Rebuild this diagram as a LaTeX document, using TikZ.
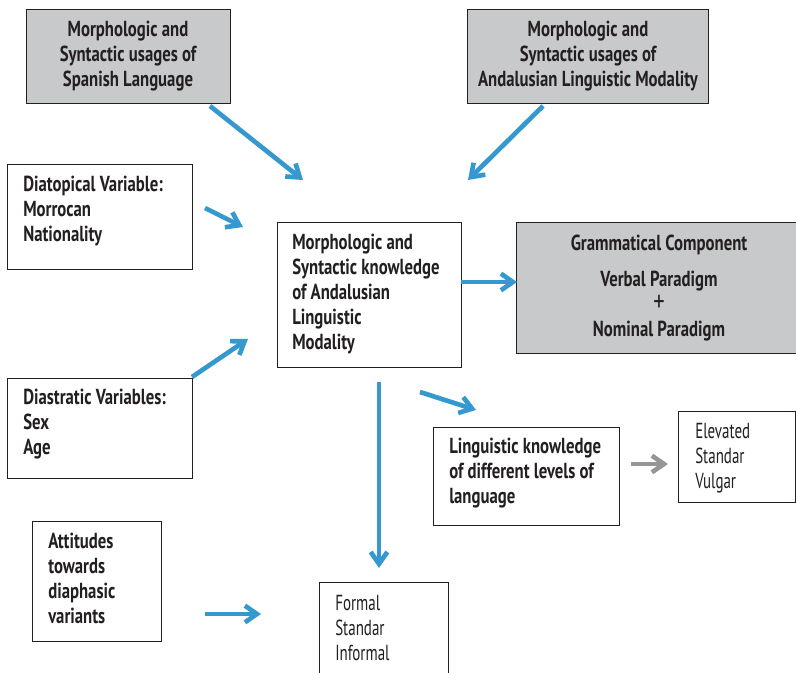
\documentclass[tikz,border=0pt]{standalone}
\usepackage{fontspec}
\setmainfont{PT Sans}[FakeStretch=0.77]
\newfontfamily\regfont{PT Sans}[FakeStretch=0.69]
\usetikzlibrary{arrows.meta}
\definecolor{boxgray}{RGB}{200,201,203}
\definecolor{arrblue}{RGB}{53,152,207}
\definecolor{arrgray}{RGB}{150,150,150}
\definecolor{edgec}{RGB}{35,31,32}
\begin{document}
\begin{tikzpicture}[x=0.75pt,y=-0.75pt,
  box/.style 2 args={draw=edgec, line width=1.1pt, fill=white, inner sep=0pt, anchor=north west,
    minimum width=#1*0.75pt, minimum height=#2*0.75pt},
  graybox/.style 2 args={box={#1}{#2}, fill=boxgray},
  btxt/.style={font=\bfseries\fontsize{16.3}{18.75}\selectfont, text=edgec, inner sep=0pt, align=left, anchor=base west},
  ctxt/.style={btxt, align=center, anchor=base},
  rtxt/.style={font=\regfont\fontsize{16.3}{18.75}\selectfont, text=edgec, inner sep=0pt, align=left, anchor=base west},
  flow/.style={draw=arrblue, line width=3.5pt, -{Straight Barb[length=9pt,width=12.5pt]}},
  flowgray/.style={flow, draw=arrgray},
]
\useasboundingbox (0,0) rectangle (796,673);

% boxes
\node[graybox={204}{94}] (A) at (26,9) {};
\node[graybox={241}{94}] (B) at (467,9) {};
\node[box={185}{105}] (C) at (7,164) {};
\node[box={184}{145}] (D) at (277,222) {};
\node[graybox={300}{131}] (E) at (516,222) {};
\node[box={185}{100}] (F) at (7,378) {};
\node[box={186}{98}] (G) at (433,427) {};
\node[box={117}{91}] (H) at (678,411) {};
\node[box={129}{120}] (I) at (32,521) {};
\node[box={129}{120}] (J) at (319,582) {};

% texts (anchored at the baseline of the last line)
\node[ctxt] (tA) at (128,87) {Morphologic and\\Syntactic usages of\\Spanish Language};
\node[ctxt] (tB) at (588,87) {Morphologic and\\Syntactic usages of\\Andalusian Linguistic Modality};
\node[btxt] (tC) at (23,242) {Diatopical Variable:\\Morrocan\\Nationality};
\node[btxt] (tD) at (292,350) {Morphologic and\\Syntactic knowledge\\of Andalusian\\Linguistic\\Modality};
\node[ctxt] (tE) at (659,337) {Grammatical Component\\[8.5pt]Verbal Paradigm\\{\mdseries\fontsize{22}{18.75}\selectfont +}\\Nominal Paradigm};
\node[btxt] (tF) at (23,455) {Diastratic Variables:\\Sex\\Age};
\node[btxt] (tG) at (449,503) {Linguistic knowledge\\of different levels of\\language};
\node[rtxt] (tH) at (695,488) {Elevated\\Standar\\Vulgar};
\node[btxt] (tI) at (48,623) {Attitudes\\towards\\diaphasic\\variants};
\node[rtxt] (tJ) at (335,660) {Formal\\Standar\\Informal};

% arrow end points
\coordinate (a1) at (210,106); \coordinate (a2) at (303,180);
\coordinate (b1) at (543,106); \coordinate (b2) at (468,180);
\coordinate (c1) at (205,208); \coordinate (c2) at (243,227);
\coordinate (f1) at (192,377); \coordinate (f2) at (248,339);
\coordinate (d1) at (461,282); \coordinate (d2) at (517,282);
\coordinate (g1) at (420,392); \coordinate (g2) at (476,410);
\coordinate (v1) at (379,382); \coordinate (v2) at (379,568);
\coordinate (h1) at (631,464); \coordinate (h2) at (668,464);
\coordinate (i1) at (205,614); \coordinate (i2) at (261,614);

\draw[flow] (a1) -- (a2);
\draw[flow] (b1) -- (b2);
\draw[flow] (c1) -- (c2);
\draw[flow] (f1) -- (f2);
\draw[flow] (d1) -- (d2);
\draw[flow] (g1) -- (g2);
\draw[flow] (v1) -- (v2);
\draw[flowgray] (h1) -- (h2);
\draw[flow] (i1) -- (i2);
\end{tikzpicture}
\end{document}
